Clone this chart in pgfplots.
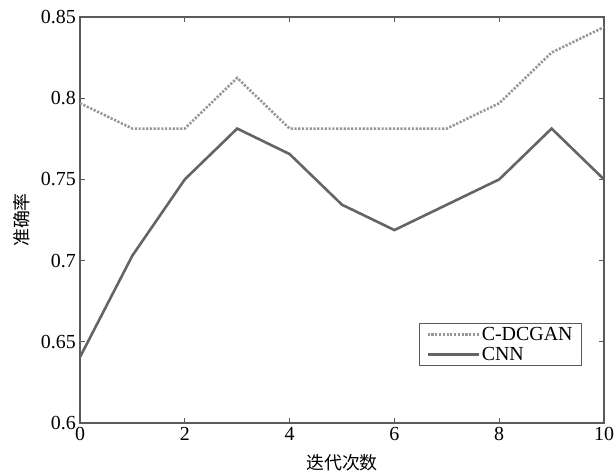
\documentclass[border=0pt]{standalone}
\usepackage{pgfplots}
\pgfplotsset{compat=1.18}
\usepackage{fontspec}
\setmainfont{Liberation Serif}
\newfontfamily\cjk{Noto Sans CJK SC}
\definecolor{axisgray}{RGB}{90,90,90}
\definecolor{cnngray}{RGB}{100,100,100}
\definecolor{gangray}{RGB}{150,150,150}
\begin{document}
\begin{tikzpicture}
\begin{axis}[
  scale only axis,
  width=524bp, height=406bp,
  xmin=0, xmax=10, ymin=0.6, ymax=0.85,
  xtick={0,2,4,6,8,10},
  xticklabels={0,2,4,6,8,10},
  ytick={0.6,0.65,0.7,0.75,0.8,0.85},
  yticklabels={0.6,0.65,0.7,0.75,0.8,0.85},
  tick align=inside,
  major tick length=5bp,
  axis line style={axisgray, line width=1.2pt},
  every tick/.style={axisgray, line width=1.2pt},
  tick label style={font=\fontsize{20}{22}\selectfont, black},
  xticklabel style={inner sep=0pt, yshift=-4bp},
  yticklabel style={inner sep=0pt, xshift=-4bp},
  xlabel={\cjk\fontsize{18}{20}\selectfont 迭代次数},
  ylabel={\cjk\fontsize{18}{20}\selectfont 准确率},
  xlabel style={at={(axis description cs:0.5,-0.0985)}, anchor=center},
  ylabel style={at={(axis description cs:-0.1107,0.5)}, anchor=center},
  legend style={at={(0.958,0.1404)}, anchor=south east, draw=axisgray, line width=0.8pt,
    font=\fontsize{20}{20}\selectfont, inner xsep=7bp, inner ysep=2bp,
    row sep=1bp, column sep=0bp,
    nodes={inner sep=2bp},
    legend cell align=left},
  legend image code/.code={\draw[#1] (0bp,0bp) -- (51bp,0bp);},
  legend image post style={line width=2.5pt},
]
\addplot[gangray, line width=2.6pt, dotted, dash pattern=on 2.2pt off 1.6pt] coordinates {
  (0,0.7969) (1,0.7813) (2,0.7813) (3,0.8125) (4,0.7813) (5,0.7813)
  (6,0.7813) (7,0.7813) (8,0.7969) (9,0.8281) (10,0.8438)
};
\addlegendentry{C-DCGAN}
\addplot[cnngray, line width=2.6pt] coordinates {
  (0,0.6406) (1,0.7031) (2,0.75) (3,0.7813) (4,0.7656) (5,0.7344)
  (6,0.7188) (7,0.7344) (8,0.75) (9,0.7813) (10,0.75)
};
\addlegendentry{CNN}
\end{axis}
% page frame: margins around the plot area
\pgfresetboundingbox
\useasboundingbox ([xshift=-80bp,yshift=-51bp]current axis.south west)
  rectangle ([xshift=10bp,yshift=17bp]current axis.north east);
\end{tikzpicture}
\end{document}
